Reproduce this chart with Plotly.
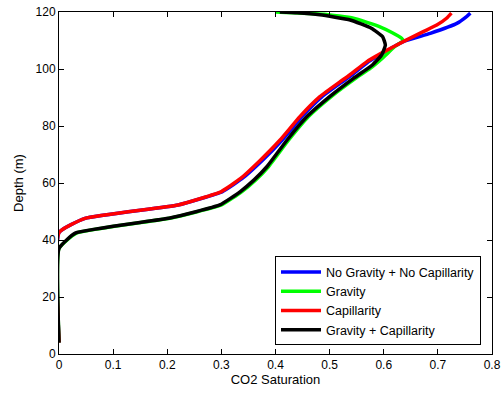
import plotly.graph_objects as go

# No Gravity + No Capillarity (blue)
depth_blue = [4, 42.6, 47.6, 52.3, 57, 61.5, 68, 75, 83.3, 90.3, 95.6, 97.9, 102.6, 106, 109.6, 112.5, 116, 118.4, 119.6]
sat_blue = [0, 0, 0.048, 0.22, 0.302, 0.338, 0.376, 0.412, 0.449, 0.486, 0.524, 0.541, 0.572, 0.602, 0.636, 0.686, 0.735, 0.753, 0.76]

# Gravity (green)
depth_green = [4, 37, 42.4, 47.7, 52.3, 57, 61, 65.7, 75, 83.3, 90.3, 96.7, 100.2, 103.7, 107.8, 110, 110.8, 112.8, 114.8, 117.8, 119.2, 120]
sat_green = [0, 0, 0.032, 0.207, 0.3, 0.338, 0.363, 0.387, 0.424, 0.461, 0.503, 0.548, 0.575, 0.597, 0.62, 0.636, 0.633, 0.615, 0.593, 0.544, 0.49, 0.40]

# Capillarity (red)
depth_red = [4, 42.6, 47.6, 52.3, 57, 61.5, 68, 75, 83.3, 90.3, 95.6, 97.9, 102.6, 106, 109.6, 113.1, 115.4, 117.8, 119.6]
sat_red = [0, 0, 0.048, 0.22, 0.30, 0.335, 0.372, 0.408, 0.445, 0.482, 0.52, 0.537, 0.569, 0.60, 0.636, 0.673, 0.698, 0.716, 0.725]

# Gravity + Capillarity (black)
depth_black = [4, 37, 42.4, 47.7, 52.3, 57, 61, 65.7, 75, 83.3, 90.3, 96.7, 101.4, 104.9, 108.4, 111.3, 114.3, 117.2, 119, 119.7, 120]
sat_black = [0, 0, 0.03, 0.205, 0.297, 0.335, 0.36, 0.384, 0.421, 0.458, 0.50, 0.544, 0.579, 0.596, 0.603, 0.598, 0.577, 0.538, 0.482, 0.44, 0.408]

series = [
    ("No Gravity + No Capillarity", sat_blue, depth_blue, "#0000ff"),
    ("Gravity", sat_green, depth_green, "#00ff00"),
    ("Capillarity", sat_red, depth_red, "#ff0000"),
    ("Gravity + Capillarity", sat_black, depth_black, "#000000"),
]

FONT = "Liberation Sans, Arial"

fig = go.Figure()
for name, x, y, c in series:
    fig.add_trace(go.Scatter(x=x, y=y, mode="lines", name=name,
                             line=dict(color=c, width=3.5, shape="spline", smoothing=0.4)))

axis_common = dict(showgrid=False, zeroline=False, showline=True, linecolor="black",
                   linewidth=1, mirror="allticks", ticks="inside", ticklen=5, automargin=False,
                   tickcolor="black", tickfont=dict(family=FONT, size=12, color="black"))

fig.update_xaxes(range=[0, 0.8], dtick=0.1, tick0=0,
                 title=dict(text="CO2 Saturation", font=dict(family=FONT, size=13, color="black"), standoff=3),
                 **axis_common)
fig.update_yaxes(range=[0, 120], dtick=20, tick0=0,
                 title=dict(text="Depth (m)", font=dict(family=FONT, size=13, color="black"), standoff=9),
                 **axis_common)

fig.update_layout(
    width=503, height=394,
    margin=dict(l=59, r=11, t=12, b=40),
    plot_bgcolor="white", paper_bgcolor="white",
    showlegend=True,
    legend=dict(x=0.9746, y=0.155, xanchor="right", yanchor="middle",
                bordercolor="black", borderwidth=1, bgcolor="white",
                font=dict(family=FONT, size=12.5, color="black"),
                tracegroupgap=0, itemwidth=40),
)

fig.write_html("out.html")
